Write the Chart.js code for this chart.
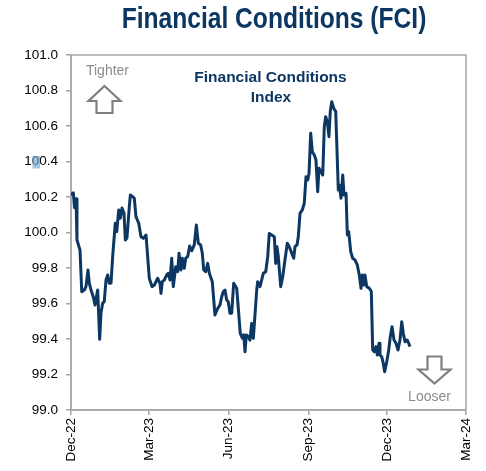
<!DOCTYPE html>
<html>
<head>
<meta charset="utf-8">
<script src="https://cdn.jsdelivr.net/npm/chart.js@4.4.1/dist/chart.umd.min.js"></script>
<style>
  html, body { margin: 0; padding: 0; background: #fff; }
  #wrap { width: 486px; height: 471px; }
</style>
</head>
<body>
<div id="wrap"><canvas id="fciChart" width="486" height="471"></canvas></div>
<script>
// days since 1 Dec 2022
const days = [0,2.7,4.0,5.8,6.9,10.4,12.4,15.4,17.3,19.6,21.1,23.1,25.7,27.7,30.8,33.1,34.6,36.6,38.4,40.4,42.4,44.2,46.2,48.1,51.1,52.8,55.1,56.9,58.9,61.2,62.7,64.6,67.3,68.5,71.2,73.1,75.0,78.2,80.8,83.5,86.6,90.4,93.5,96.2,100.1,102.7,103.9,105.4,107.7,110.5,112.3,114.3,116.3,118.1,120.9,123.2,124.7,127.0,128.5,130.8,132.4,134.7,137.0,139.3,142.3,144.7,147.0,149.7,151.6,153.2,155.5,157.8,159.7,163.1,166.2,169.4,172.0,174.0,175.8,177.8,179.7,181.6,183.5,185.5,187.8,191.3,193.9,195.4,197.8,199.4,200.9,202.4,204.7,206.6,208.6,210.5,214.4,215.5,218.2,222.0,224.8,227.1,228.9,231.7,234.7,236.3,237.8,239.3,242.1,244.4,247.0,249.7,252.0,254.8,257.1,258.6,260.9,262.4,264.4,267.0,269.3,271.3,273.3,274.8,276.7,278.6,280.9,282.8,284.8,286.3,288.6,290.6,292.4,294.0,295.9,297.8,299.3,301.0,303.3,305.6,308.6,309.7,311.7,313.7,315.2,317.5,319.0,320.6,322.9,325.2,327.9,330.5,332.8,334.8,336.3,337.9,339.4,341.4,344.4,346.7,348.3,350.1,352.1,353.6,355.6,356.7,358.7,360.5,362.1,364.5,366.8,368.6,370.6,372.9,375.2,377.5,379.8,381.8,383.6,385.6,388.2,389.8,391.4];

const fci = [100.21,100.224,100.14,100.19,99.958,99.901,99.666,99.676,99.695,99.789,99.715,99.676,99.638,99.592,99.676,99.398,99.546,99.603,99.610,99.732,99.761,99.714,99.715,99.864,100.052,100.005,100.127,100.080,100.138,100.110,99.958,99.969,100.145,100.211,100.202,100.193,100.089,100.052,99.976,99.967,99.986,99.742,99.695,99.704,99.742,99.714,99.657,99.723,99.732,99.761,99.770,99.732,99.855,99.695,99.807,99.779,99.883,99.789,99.855,99.798,99.855,99.864,99.924,99.897,99.930,100.042,99.939,99.930,99.883,99.789,99.779,99.826,99.770,99.723,99.535,99.573,99.592,99.638,99.666,99.676,99.620,99.610,99.545,99.545,99.714,99.686,99.526,99.432,99.404,99.423,99.328,99.423,99.413,99.394,99.488,99.404,99.676,99.723,99.695,99.770,99.779,99.864,99.995,99.986,99.976,99.826,99.920,99.864,99.695,99.751,99.845,99.939,99.920,99.883,99.855,99.920,99.930,99.976,100.108,100.127,100.165,100.314,100.296,100.334,100.559,100.455,100.437,100.408,100.230,100.362,100.343,100.324,100.596,100.652,100.624,100.540,100.681,100.737,100.700,100.681,100.239,100.268,100.193,100.324,100.211,100.221,99.986,100.005,99.892,99.855,99.845,99.817,99.761,99.686,99.761,99.704,99.761,99.695,99.686,99.667,99.338,99.328,99.357,99.310,99.376,99.310,99.300,99.263,99.216,99.272,99.338,99.413,99.469,99.394,99.376,99.338,99.394,99.497,99.432,99.385,99.394,99.376,99.357];

const tickDays = [0, 90, 182, 274, 365, 456];
const tickLabels = ['Dec-22', 'Mar-23', 'Jun-23', 'Sep-23', 'Dec-23', 'Mar-24'];
const yMin = 99.0, yMax = 101.0, yStep = 0.2;

const navy = '#0d3763';
const axisGray = '#a6a6a6';
const noteGray = '#8c8c8c';

const points = days.map((d, i) => ({ x: d, y: fci[i] }));

function upArrow(ctx, cx, top) {
  ctx.beginPath();
  ctx.moveTo(cx, top);
  ctx.lineTo(cx + 16, top + 15);
  ctx.lineTo(cx + 8, top + 15);
  ctx.lineTo(cx + 8, top + 27);
  ctx.lineTo(cx - 8, top + 27);
  ctx.lineTo(cx - 8, top + 15);
  ctx.lineTo(cx - 16, top + 15);
  ctx.closePath();
  ctx.stroke();
}

function downArrow(ctx, cx, bottom) {
  ctx.beginPath();
  ctx.moveTo(cx, bottom);
  ctx.lineTo(cx + 16, bottom - 14);
  ctx.lineTo(cx + 7, bottom - 14);
  ctx.lineTo(cx + 7, bottom - 27);
  ctx.lineTo(cx - 7, bottom - 27);
  ctx.lineTo(cx - 7, bottom - 14);
  ctx.lineTo(cx - 16, bottom - 14);
  ctx.closePath();
  ctx.stroke();
}

const notes = {
  id: 'notes',
  beforeDatasetsDraw(chart) {
    const { ctx, chartArea: a } = chart;
    ctx.save();
    ctx.strokeStyle = axisGray;
    ctx.lineWidth = 1.5;
    ctx.strokeRect(a.left, a.top, a.right - a.left, a.bottom - a.top);
    ctx.restore();
  },
  afterDraw(chart) {
    const { ctx, chartArea: a } = chart;
    ctx.save();
    // main title, squeezed to look like a narrow face
    ctx.fillStyle = navy;
    ctx.textAlign = 'center';
    ctx.textBaseline = 'middle';
    ctx.save();
    ctx.translate(274, 20);
    ctx.scale(0.82, 1);
    ctx.font = 'bold 30px "Liberation Sans", Arial, sans-serif';
    ctx.fillText('Financial Conditions (FCI)', 0, 0);
    ctx.restore();

    // series label
    ctx.font = 'bold 15.5px "Liberation Sans", Arial, sans-serif';
    ctx.fillText('Financial Conditions', 270.5, 78);
    ctx.fillText('Index', 271, 98);

    // tighter / looser
    ctx.fillStyle = noteGray;
    ctx.font = '14px "Liberation Sans", Arial, sans-serif';
    ctx.fillText('Tighter', a.left + 36.5, 71);
    ctx.fillText('Looser', a.right - 36.5, 397.5);

    ctx.strokeStyle = '#7f7f7f';
    ctx.lineWidth = 2.2;
    upArrow(ctx, a.left + 33.5, 86);
    downArrow(ctx, a.right - 31.5, 383.5);

    // small highlight over the 100.4 label
    ctx.fillStyle = 'rgba(110,165,215,0.65)';
    ctx.fillRect(32.5, 156, 7.5, 12.5);
    ctx.restore();
  }
};

new Chart(document.getElementById('fciChart').getContext('2d'), {
  type: 'line',
  data: {
    datasets: [{
      label: 'Financial Conditions Index',
      data: points,
      borderColor: navy,
      borderWidth: 3,
      borderJoinStyle: 'round',
      pointRadius: 0,
      tension: 0,
      fill: false
    }]
  },
  options: {
    responsive: false,
    animation: false,
    layout: { padding: { top: 55, right: 20, left: 0, bottom: 0 } },
    plugins: {
      legend: { display: false },
      title: { display: false },
      tooltip: { enabled: false }
    },
    scales: {
      x: {
        type: 'linear',
        min: tickDays[0],
        max: tickDays[tickDays.length - 1],
        afterBuildTicks: (s) => { s.ticks = tickDays.map(v => ({ value: v })); },
        afterFit: (s) => { s.height = 61; },
        border: { color: axisGray, width: 1.5 },
        grid: { drawOnChartArea: false, drawTicks: true, tickLength: 5, color: axisGray, lineWidth: 1.5 },
        ticks: {
          autoSkip: false,
          minRotation: 90,
          maxRotation: 90,
          padding: 3,
          color: '#000',
          font: { family: '"Liberation Sans", Arial, sans-serif', size: 13.5 },
          callback: (v) => tickLabels[tickDays.indexOf(v)]
        }
      },
      y: {
        min: yMin,
        max: yMax,
        afterFit: (s) => { s.width = 71; },
        border: { color: axisGray, width: 1.5 },
        grid: { drawOnChartArea: false, drawTicks: true, tickLength: 5, color: axisGray, lineWidth: 1.5 },
        ticks: {
          stepSize: yStep,
          padding: 8,
          color: '#000',
          font: { family: '"Liberation Sans", Arial, sans-serif', size: 13.5 },
          callback: (v) => v.toFixed(1)
        }
      }
    }
  },
  plugins: [notes]
});
</script>
</body>
</html>
